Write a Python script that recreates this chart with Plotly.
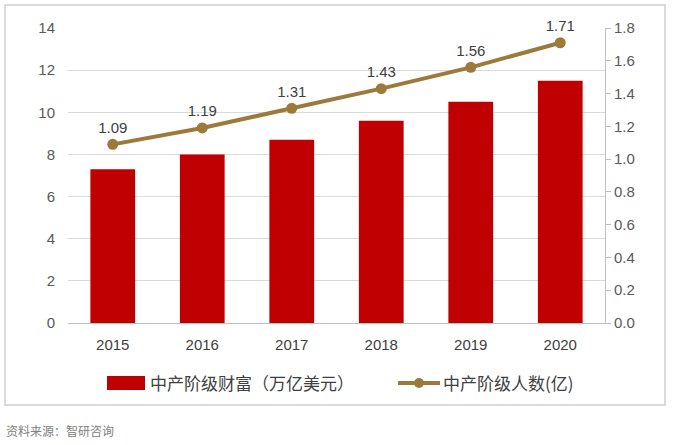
import plotly.graph_objects as go

years = ["2015", "2016", "2017", "2018", "2019", "2020"]
wealth = [7.3, 8.0, 8.7, 9.6, 10.5, 11.5]
people = [1.09, 1.19, 1.31, 1.43, 1.56, 1.71]
left_ticks = [0, 2, 4, 6, 8, 10, 12, 14]
right_ticks = [0.0, 0.2, 0.4, 0.6, 0.8, 1.0, 1.2, 1.4, 1.6, 1.8]
bar_name = "中产阶级财富（万亿美元）"
line_name = "中产阶级人数(亿)"

BAR_COLOR = "#C00000"
LINE_COLOR = "#9C7A3C"

L, R, T, B = 68, 605, 28, 323
W, H = R - L, B - T

def px(x):
    return (x - L) / W

def py(y):
    return (B - y) / H

fig = go.Figure()
fig.add_trace(go.Bar(
    x=years, y=wealth, name=bar_name,
    marker=dict(color=BAR_COLOR, line=dict(width=0)), yaxis="y",
))
fig.add_trace(go.Scatter(
    x=years, y=people, name=line_name, yaxis="y2",
    mode="lines+markers+text", text=[f"{v:.2f}" for v in people],
    textposition="top center", textfont=dict(size=15, color="#404040"),
    line=dict(color=LINE_COLOR, width=4),
    marker=dict(size=11, color=LINE_COLOR), cliponaxis=False,
))

ly = py(383)
shapes = [
    dict(type="rect", xref="paper", yref="paper",
         x0=px(5), x1=px(665), y0=py(405), y1=py(5),
         line=dict(color="#D0D0D0", width=1.5), layer="below"),
    dict(type="rect", xref="paper", yref="paper",
         x0=px(107), x1=px(145), y0=py(390), y1=py(376),
         fillcolor=BAR_COLOR, line=dict(width=0)),
    dict(type="line", xref="paper", yref="paper",
         x0=px(398), x1=px(440), y0=ly, y1=ly,
         line=dict(color=LINE_COLOR, width=4)),
    dict(type="circle", xref="paper", yref="paper",
         x0=px(414), x1=px(424), y0=py(388), y1=py(378),
         fillcolor=LINE_COLOR, line=dict(width=0)),
]

annotations = [
    dict(text="资料来源：智研咨询", xref="paper", yref="paper",
         x=px(4), y=py(430), xanchor="left", yanchor="middle",
         showarrow=False, font=dict(size=12, color="#808080", family="Noto Sans CJK SC")),
    dict(text=bar_name, xref="paper", yref="paper", x=px(148), y=ly,
         xanchor="left", yanchor="middle", showarrow=False,
         font=dict(size=17, color="#404040", family="Noto Sans CJK SC")),
    dict(text=line_name, xref="paper", yref="paper", x=px(441), y=ly,
         xanchor="left", yanchor="middle", showarrow=False,
         font=dict(size=17, color="#404040", family="Noto Sans CJK SC")),
]

fig.update_layout(
    width=674, height=445,
    margin=dict(l=L, r=674 - R, t=T, b=445 - B),
    paper_bgcolor="white", plot_bgcolor="white",
    font=dict(family="Liberation Sans, Noto Sans CJK SC", size=14, color="#595959"),
    bargap=0.5,
    showlegend=False,
    xaxis=dict(showgrid=False, showline=True, linecolor="#BFBFBF", linewidth=1,
               ticks="", tickfont=dict(size=15, color="#404040"),
               ticklabelstandoff=8),
    yaxis=dict(range=[0, 14], tickvals=left_ticks, showgrid=True, gridcolor="#D9D9D9",
               zeroline=False, showline=False, ticks="", tickfont=dict(size=15),
               ticklabelstandoff=12),
    yaxis2=dict(range=[0, 1.8], tickvals=right_ticks, tickformat=".1f", overlaying="y",
                side="right", showgrid=False, zeroline=False, showline=True,
                linecolor="#BFBFBF", linewidth=1, ticks="outside", ticklen=5,
                tickcolor="#BFBFBF", tickfont=dict(size=15)),
    shapes=shapes,
    annotations=annotations,
)

fig.write_html("out.html")
